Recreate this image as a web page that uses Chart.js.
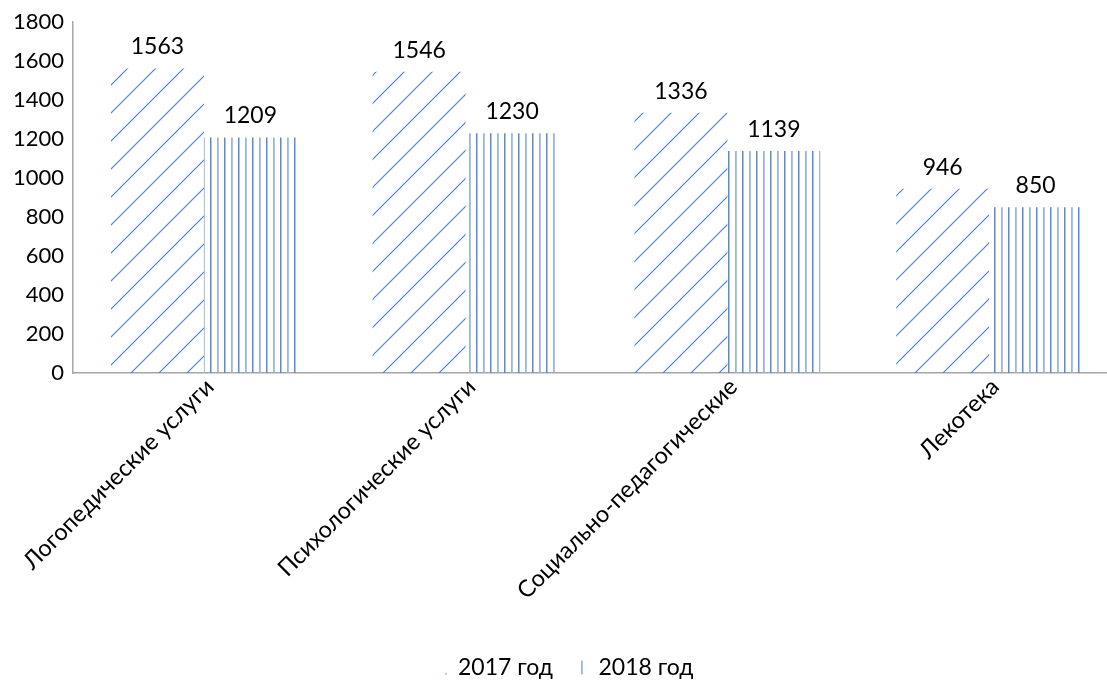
<!DOCTYPE html>
<html>
<head>
<meta charset="utf-8">
<script src="https://cdn.jsdelivr.net/npm/chart.js@4"></script>
<style>
  body { margin: 0; background: #fff; overflow: hidden; }
  #wrap { width: 1120px; height: 682px; }
</style>
</head>
<body>
<div id="wrap"><canvas id="myChart"></canvas></div>
<script>
// Data

const categories = ["Логопедические услуги", "Психологические услуги", "Социально-педагогические", "Лекотека"];
const values2017 = [1563, 1546, 1336, 946];
const values2018 = [1209, 1230, 1139, 850];
const seriesNames = ["2017 год", "2018 год"];
const yTicks = [0, 200, 400, 600, 800, 1000, 1200, 1400, 1600, 1800];

// Patterns

function diagonalPattern() {
  let c = document.createElement("canvas");
  c.width = 28;
  c.height = 28;
  let g = c.getContext("2d");
  g.strokeStyle = "#4f80cc";
  g.lineWidth = 1.2;
  g.beginPath();
  g.moveTo(0, 28);
  g.lineTo(28, 0);
  g.moveTo(-2, 2);
  g.lineTo(2, -2);
  g.moveTo(26, 30);
  g.lineTo(30, 26);
  g.stroke();
  return g.createPattern(c, "repeat");
}

function verticalPattern() {
  let c = document.createElement("canvas");
  c.width = 14;
  c.height = 14;
  let g = c.getContext("2d");
  g.fillStyle = "#5d89d0";
  g.fillRect(0, 0, 1.5, 14);
  g.fillStyle = "#9ab5e2";
  g.fillRect(7, 0, 1.8, 14);
  return g.createPattern(c, "repeat");
}

// Value labels above bars

const valueLabels = {
  id: "valueLabels",
  afterDatasetsDraw(chart) {
    const ctx = chart.ctx;
    ctx.save();
    ctx.font = "23px Lato";
    ctx.fillStyle = "#000";
    ctx.textAlign = "center";
    ctx.textBaseline = "bottom";
    chart.data.datasets.forEach((ds, i) => {
      chart.getDatasetMeta(i).data.forEach((bar, j) => {
        ctx.fillText(ds.data[j], bar.x, bar.y - 10);
      });
    });
    ctx.restore();
  }
};

// Chart

const ctx = document.getElementById("myChart").getContext("2d");
const chart = new Chart(ctx, {
  type: "bar",
  data: {
    labels: categories,
    datasets: [
      { label: seriesNames[0], data: values2017, backgroundColor: diagonalPattern(), borderWidth: 0 },
      { label: seriesNames[1], data: values2018, backgroundColor: verticalPattern(), borderWidth: 0 }
    ]
  },
  options: {
    responsive: true,
    maintainAspectRatio: false,
    animation: false,
    layout: { padding: { top: 20, right: 0, left: 12, bottom: -7 } },
    categoryPercentage: 0.71,
    barPercentage: 1.0,
    plugins: {
      legend: {
        position: "bottom",
        labels: {
          font: { family: "Lato", size: 23 },
          color: "#000",
          boxWidth: 8,
          boxHeight: 14,
          padding: 26
        }
      },
      tooltip: { enabled: false }
    },
    scales: {
      x: {
        grid: { display: false, drawTicks: false },
        border: { color: "#a6a6a6", width: 1.5 },
        afterFit: (axis) => { axis.height = 257; },
        ticks: {
          font: { family: "Lato", size: 23.5 },
          color: "#000",
          minRotation: 45,
          maxRotation: 45,
          labelOffset: 6,
          padding: 0
        }
      },
      y: {
        min: 0,
        max: 1800,
        afterBuildTicks: (axis) => { axis.ticks = yTicks.map(v => ({ value: v })); },
        afterFit: (axis) => { axis.width = 61; },
        grid: { display: false, drawTicks: false },
        border: { color: "#a6a6a6", width: 1.5 },
        ticks: {
          font: { family: "Lato", size: 22 },
          color: "#000",
          padding: 9,
          callback: (v) => String(v)
        }
      }
    }
  },
  plugins: [valueLabels]
});
</script>
</body>
</html>
